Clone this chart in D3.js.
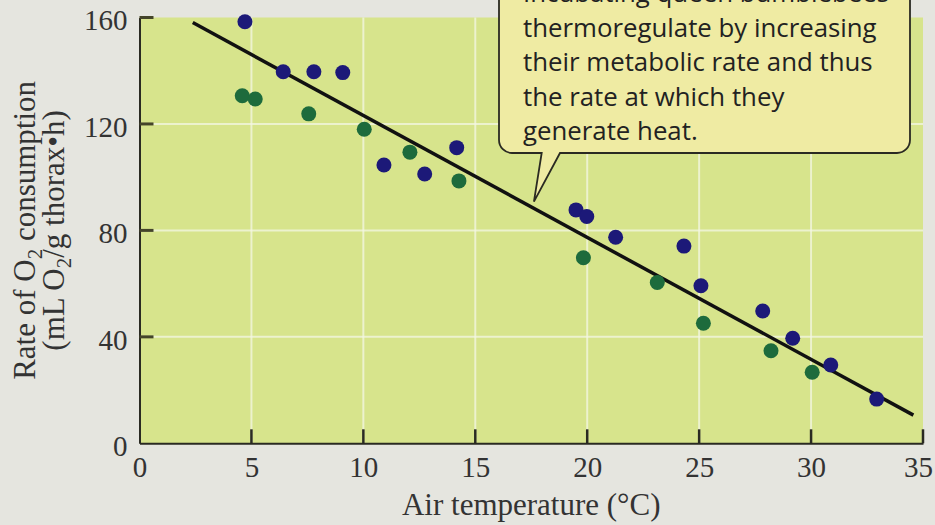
<!DOCTYPE html>
<html>
<head>
<meta charset="utf-8">
<script src="https://cdn.jsdelivr.net/npm/d3@7"></script>
<style>
  html, body { margin: 0; padding: 0; background: #e5e5df; }
  svg { display: block; }
</style>
</head>
<body>
<svg id="svg" width="935" height="525"></svg>
<script>
// blue points
var blueTemp = [4.71, 6.42, 7.79, 9.08, 10.92, 12.74, 14.17, 19.50, 19.98, 21.27, 24.32, 25.08, 27.84, 29.18, 30.88, 32.93];
var blueRate = [158.4, 139.6, 139.6, 139.3, 104.6, 101.2, 111.1, 87.7, 85.2, 77.4, 74.1, 59.2, 49.7, 39.5, 29.4, 16.6];

// green points
var greenTemp = [4.59, 5.17, 7.56, 10.04, 12.08, 14.27, 19.83, 23.13, 25.19, 28.21, 30.05];
var greenRate = [130.6, 129.4, 123.8, 118.0, 109.4, 98.6, 69.7, 60.4, 45.1, 34.8, 26.7];

// fitted line ends
var lineTemp = [2.38, 34.57];
var lineRate = [158.1, 10.6];

var xTicks = [0, 5, 10, 15, 20, 25, 30, 35];
var yTicks = [0, 40, 80, 120, 160];

var calloutText = [
  'Incubating queen bumblebees',
  'thermoregulate by increasing',
  'their metabolic rate and thus',
  'the rate at which they',
  'generate heat.'
];

var CHART = (function() {
  let chart = {};
  let svg = d3.select('svg');

  let margin = { left: 139.5, right: 12, top: 17.5, bottom: 81.7 };
  let width = 935 - margin.left - margin.right;
  let height = 525 - margin.top - margin.bottom;

  let x = d3.scaleLinear().domain([0, 35]).range([0, width]);
  let y = d3.scaleLinear().domain([0, 160]).range([height, 0]);

  let serif = '"Liberation Serif", "Times New Roman", serif';

  chart.init = function() {
    let g = svg.append('g').attr('transform', 'translate(' + margin.left + ',' + margin.top + ')');

    // plot background
    g.append('rect')
      .attr('width', width).attr('height', height)
      .attr('fill', '#d7e48c');

    // grid
    g.append('g').selectAll('line').data(xTicks.filter(d => d > 0 && d < 35)).enter().append('line')
      .attr('x1', d => x(d)).attr('x2', d => x(d))
      .attr('y1', 0).attr('y2', height)
      .attr('stroke', '#f4f7e4').attr('stroke-width', 2).attr('opacity', 0.75);
    g.append('g').selectAll('line').data(yTicks.filter(d => d > 0 && d < 160)).enter().append('line')
      .attr('x1', 0).attr('x2', width)
      .attr('y1', d => y(d)).attr('y2', d => y(d))
      .attr('stroke', '#f4f7e4').attr('stroke-width', 2).attr('opacity', 0.75);

    // axes
    let xAxis = d3.axisBottom(x).tickValues(xTicks).tickSize(0).tickPadding(18);
    let yAxis = d3.axisLeft(y).tickValues(yTicks).tickSize(0).tickPadding(12);

    let gx = g.append('g').attr('transform', 'translate(0,' + height + ')').call(xAxis);
    let gy = g.append('g').call(yAxis);

    [gx, gy].forEach(function(a) {
      a.select('.domain').attr('stroke', '#2a2a22').attr('stroke-width', 2);
      a.selectAll('text')
        .attr('font-family', serif).attr('font-size', 29).attr('fill', '#333');
    });
    gy.selectAll('text').attr('dy', '0.42em');
    gx.selectAll('text').attr('dy', '0.55em');
    // last label sits against the page edge
    gx.selectAll('.tick').filter(d => d === 35).select('text').attr('dx', -5);

    // inward tick marks
    g.append('g').selectAll('line').data(xTicks.filter(d => d > 0)).enter().append('line')
      .attr('x1', d => x(d)).attr('x2', d => x(d))
      .attr('y1', height).attr('y2', height - 14)
      .attr('stroke', '#2a2a22').attr('stroke-width', 2.5);
    g.append('g').selectAll('line').data(yTicks.filter(d => d > 0)).enter().append('line')
      .attr('x1', 0).attr('x2', 14)
      .attr('y1', d => y(d)).attr('y2', d => y(d))
      .attr('stroke', '#44442a').attr('stroke-width', 3);

    // axis titles
    svg.append('text')
      .attr('x', margin.left + width / 2).attr('y', 515)
      .attr('text-anchor', 'middle')
      .attr('font-family', serif).attr('font-size', 31).attr('fill', '#333')
      .text('Air temperature (\u00B0C)');

    let yt = svg.append('text')
      .attr('transform', 'translate(35,' + (margin.top + height / 2) + ') rotate(-90)')
      .attr('text-anchor', 'middle')
      .attr('font-family', serif).attr('font-size', 31).attr('fill', '#333');
    let l1 = yt.append('tspan').attr('x', 0).attr('y', 0);
    l1.append('tspan').text('Rate of O');
    l1.append('tspan').attr('font-size', 21).attr('dy', 7).text('2');
    l1.append('tspan').attr('dy', -7).text(' consumption');
    let l2 = yt.append('tspan').attr('x', 0).attr('y', 29);
    l2.append('tspan').text('(mL O');
    l2.append('tspan').attr('font-size', 21).attr('dy', 7).text('2');
    l2.append('tspan').attr('dy', -7).text('/g thorax\u2022h)');

    // fitted line
    let line = d3.line().x(d => x(d[0])).y(d => y(d[1]));
    g.append('path')
      .datum(d3.zip(lineTemp, lineRate))
      .attr('d', line)
      .attr('fill', 'none').attr('stroke', '#111').attr('stroke-width', 3.5);

    // dots
    g.append('g').selectAll('circle').data(d3.zip(greenTemp, greenRate)).enter().append('circle')
      .attr('cx', d => x(d[0])).attr('cy', d => y(d[1])).attr('r', 7.5)
      .attr('fill', '#1d6b3c');
    g.append('g').selectAll('circle').data(d3.zip(blueTemp, blueRate)).enter().append('circle')
      .attr('cx', d => x(d[0])).attr('cy', d => y(d[1])).attr('r', 7.5)
      .attr('fill', '#1c1978');

    chart.callout(g);
  }

  chart.callout = function(g) {
    // box in page coords, tip anchored to the data line
    let left = 499 - margin.left, right = 910 - margin.left, bottom = 153 - margin.top, r = 13;
    let tipX = x(17.62), tipY = y(90.8);
    let p = d3.path();
    p.moveTo(left, -40);
    p.lineTo(left, bottom - r);
    p.arcTo(left, bottom, left + r, bottom, r);
    p.lineTo(541.7 - margin.left, bottom);
    p.lineTo(tipX, tipY);
    p.lineTo(560 - margin.left, bottom);
    p.lineTo(right - r, bottom);
    p.arcTo(right, bottom, right, bottom - r, r);
    p.lineTo(right, -40);
    p.closePath();

    g.append('path').attr('d', p.toString())
      .attr('fill', '#efeba3').attr('stroke', '#2a2a22').attr('stroke-width', 1.8);

    g.append('g').selectAll('text').data(calloutText).enter().append('text')
      .attr('x', 523 - margin.left)
      .attr('y', (d, i) => 2 - margin.top + i * 34.5)
      .attr('font-family', '"Open Sans", sans-serif').attr('font-size', 25.8)
      .attr('fill', '#222')
      .text(d => d);
  }

  return chart;
})();

CHART.init();
</script>
</body>
</html>
